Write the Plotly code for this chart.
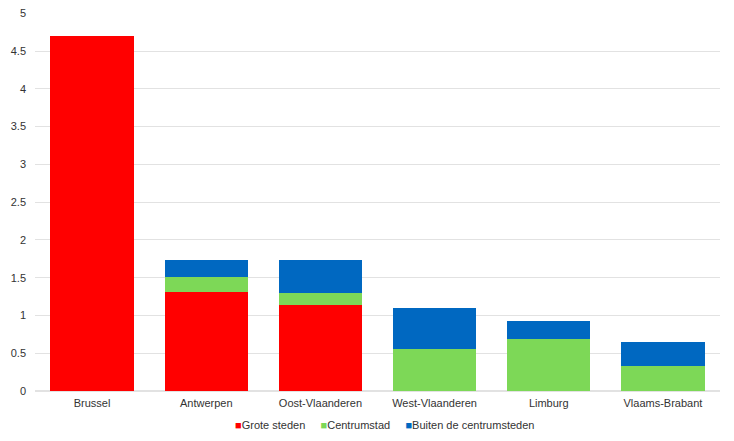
import plotly.graph_objects as go

provincies = ['Brussel', 'Antwerpen', 'Oost-Vlaanderen', 'West-Vlaanderen', 'Limburg', 'Vlaams-Brabant']
grote_steden = [4.70, 1.31, 1.14, 0, 0, 0]
centrumstad = [0, 0.20, 0.16, 0.55, 0.69, 0.335]
buiten_centrumsteden = [0, 0.22, 0.44, 0.55, 0.24, 0.315]

reeksen = [
    ('Grote steden', grote_steden, '#ff0000'),
    ('Centrumstad', centrumstad, '#7dd857'),
    ('Buiten de centrumsteden', buiten_centrumsteden, '#0068c1'),
]

fig = go.Figure()
for naam, waarden, kleur in reeksen:
    fig.add_trace(go.Bar(
        x=provincies,
        y=waarden,
        name=naam,
        marker=dict(color=kleur, line=dict(width=0)),
        showlegend=False,
    ))

# legende onderaan als tekst met gekleurde blokjes (compacter dan de plotly-legende)
legende_tekst = '     '.join(
    f"<span style='color:{kleur}'>■</span>{naam}" for naam, _, kleur in reeksen
)
fig.add_annotation(
    text=legende_tekst,
    xref='paper', yref='paper',
    x=0.51, xanchor='center',
    y=-0.09, yanchor='middle',
    showarrow=False,
    font=dict(size=11, color='#333333'),
)

# de pagina heeft 8px body-marge, daarom zijn de marges hierop aangepast
fig.update_layout(
    barmode='stack',
    bargap=0.27,
    width=734,
    height=441,
    margin=dict(l=27, r=22, t=5, b=58, autoexpand=False),
    plot_bgcolor='white',
    paper_bgcolor='white',
    font=dict(family='Liberation Sans, Arial, sans-serif', size=11, color='#333333'),
)
fig.update_xaxes(showgrid=False, showline=False, ticks='', ticklabelstandoff=4)
fig.update_yaxes(
    range=[0, 5.004],
    dtick=0.5,
    showgrid=True,
    gridcolor='#e2e2e2',
    gridwidth=1,
    zeroline=True,
    zerolinecolor='#e2e2e2',
    ticks='',
    ticklabelstandoff=8,
    ticklabeloverflow='allow',
)

fig.write_html('out.html')
